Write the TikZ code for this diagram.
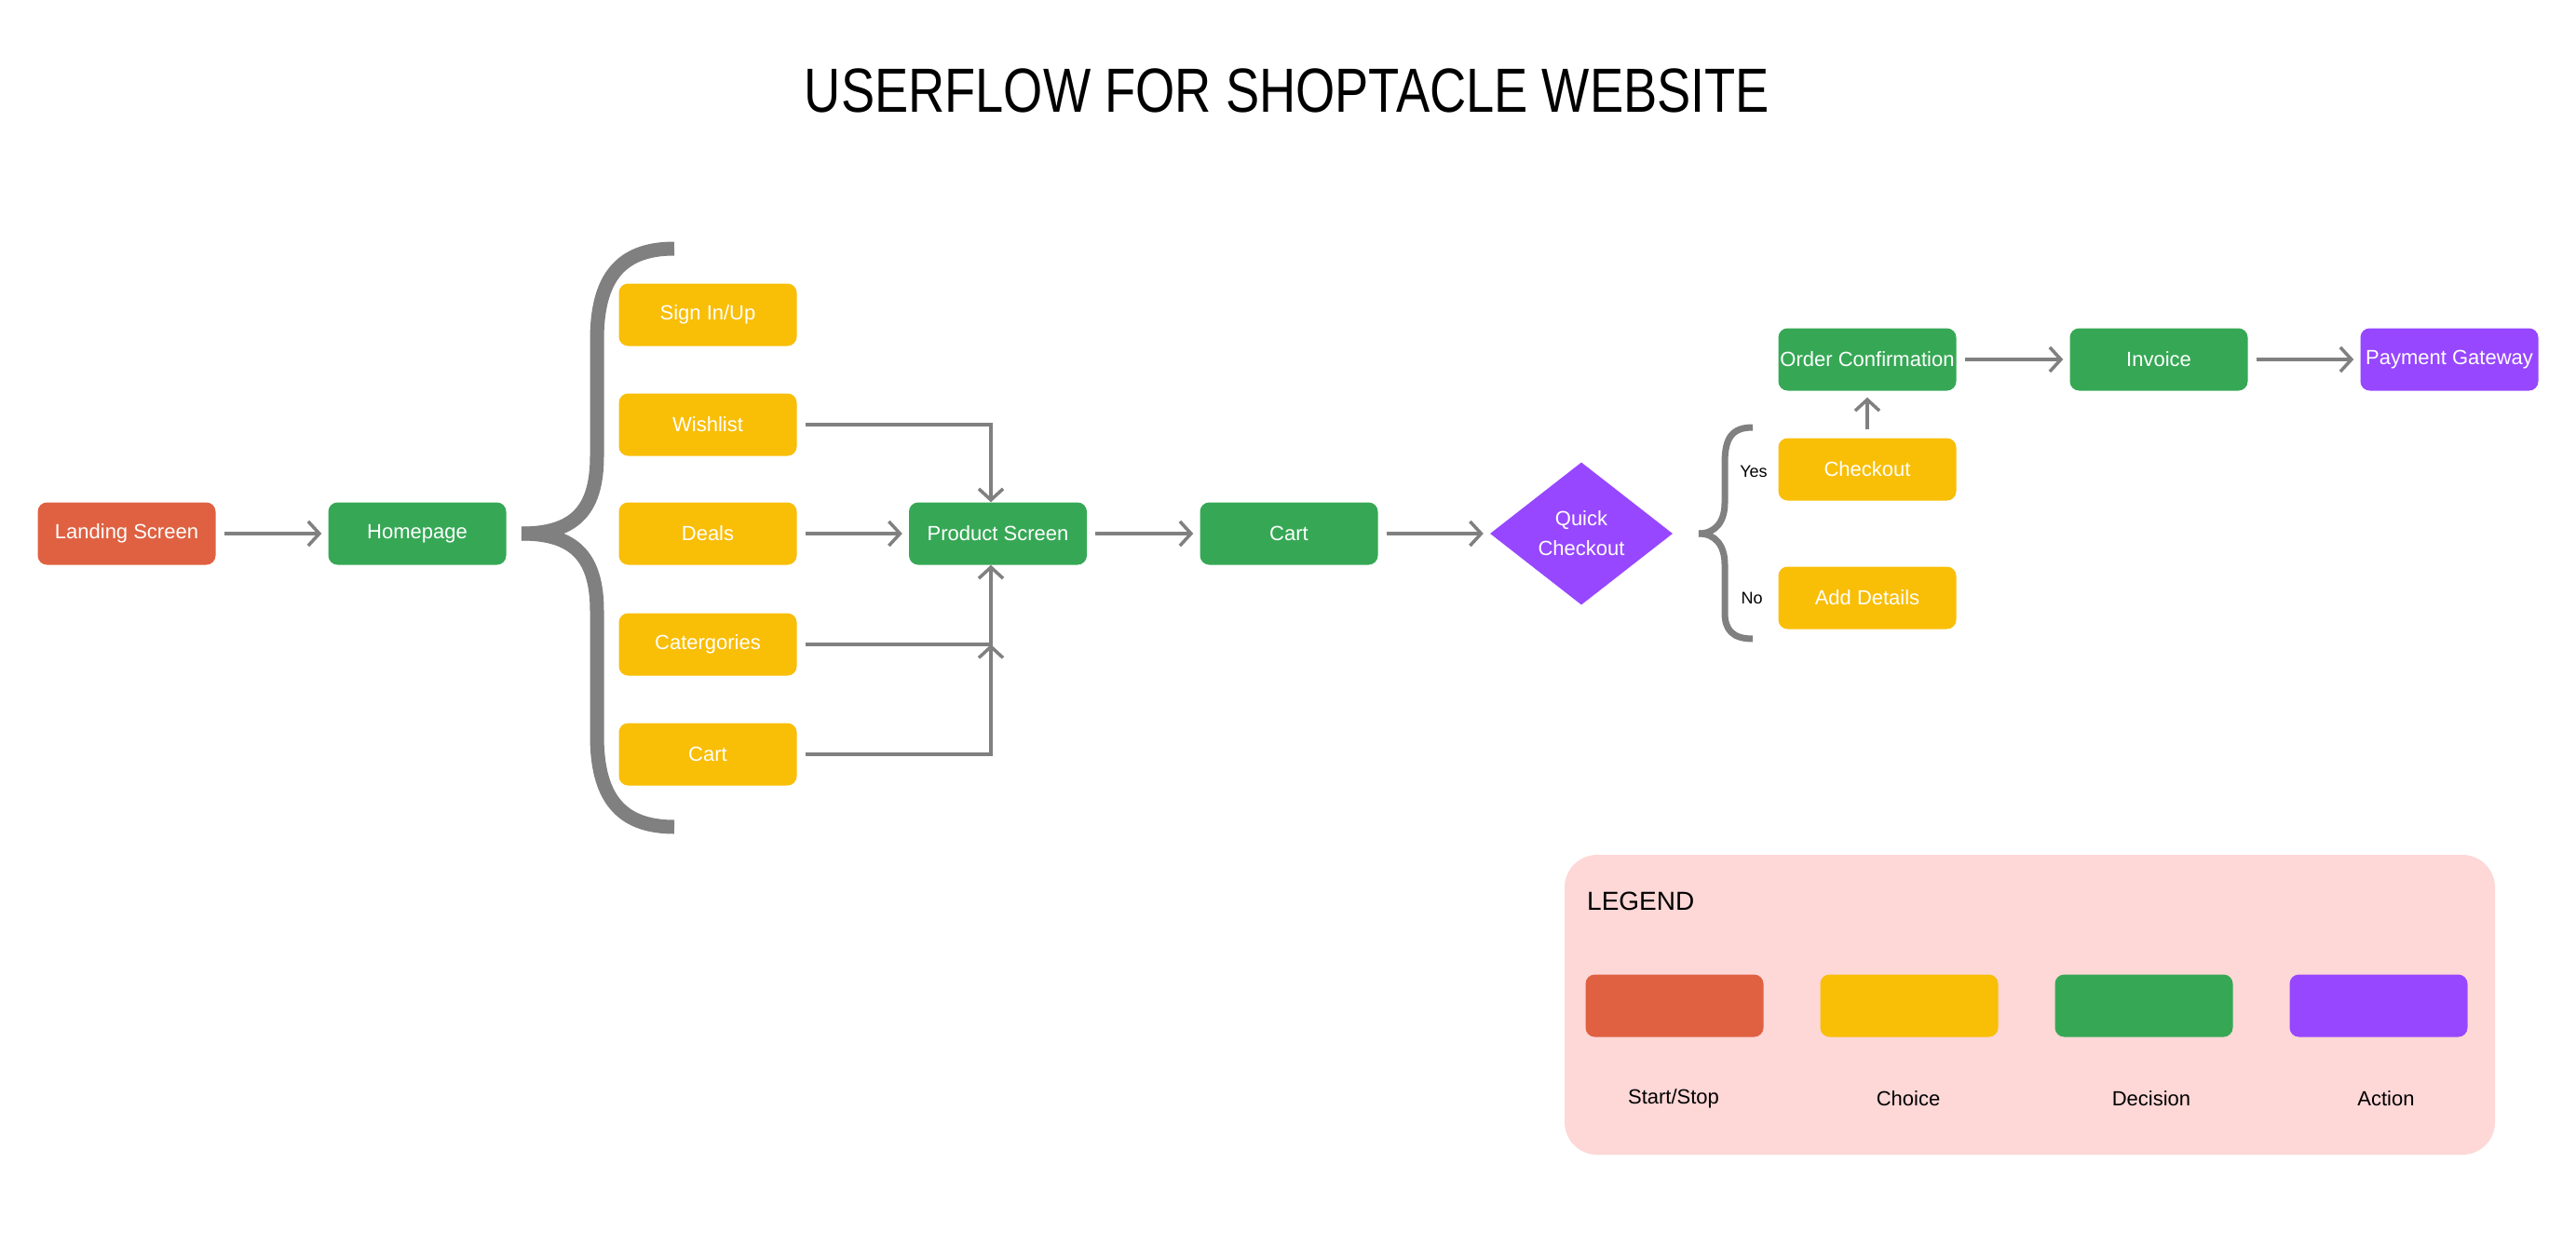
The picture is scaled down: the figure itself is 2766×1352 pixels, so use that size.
\documentclass[tikz,border=0pt]{standalone}
\usepackage{fontspec}
\setmainfont{Liberation Sans}
\usetikzlibrary{arrows.meta,shapes.geometric}
\definecolor{cRed}{HTML}{DF6141}
\definecolor{cYellow}{HTML}{F9BE06}
\definecolor{cGreen}{HTML}{36A855}
\definecolor{cPurple}{HTML}{9747FF}
\definecolor{cPink}{HTML}{FED7D7}
\definecolor{cGray}{HTML}{808080}
\begin{document}
\begin{tikzpicture}[x=1pt,y=-1pt,
  box/.style={rounded corners=10pt, minimum width=191pt, minimum height=67pt, inner sep=0pt, text=white, font=\fontsize{22}{26}\selectfont},
  startbox/.style={box, fill=cRed},
  choicebox/.style={box, fill=cYellow},
  decbox/.style={box, fill=cGreen},
  actbox/.style={box, fill=cPurple},
  conn/.style={draw=cGray, line width=3.5pt, -{Straight Barb[length=12pt,width=26pt]}, shorten <=9pt, shorten >=7pt},
  bracestroke/.style={draw=cGray, line cap=butt},
  lbl/.style={text=black, font=\fontsize{22}{26}\selectfont, inner sep=0pt}
]
\useasboundingbox[fill=white] (0,0) rectangle (2766,1352);

% title
\node[font=\fontsize{67}{70}\selectfont, anchor=base, inner sep=0pt] (title) at (1382,120) {\scalebox{0.81}[1]{USERFLOW FOR SHOPTACLE WEBSITE}};

% main nodes
\node[startbox] (land) at (136,573) {Landing Screen};
\node[decbox] (home) at (448,573) {Homepage};
\node[choicebox] (sign) at (760,338) {Sign In/Up};
\node[choicebox] (wish) at (760,456) {Wishlist};
\node[choicebox] (deals) at (760,573) {Deals};
\node[choicebox] (cat) at (760,692) {Catergories};
\node[choicebox] (ycart) at (760,810) {Cart};
\node[decbox] (prod) at (1071.5,573) {Product Screen};
\node[decbox] (gcart) at (1384,573) {Cart};
\node[diamond, fill=cPurple, minimum width=196pt, minimum height=153pt, inner sep=0pt, text=white, align=center, font=\fontsize{22}{32}\selectfont] (qc) at (1698,573) {Quick\\Checkout};
\node[choicebox] (chk) at (2005,504) {Checkout};
\node[choicebox] (add) at (2005,642) {Add Details};
\node[decbox] (oc) at (2005,386) {Order Confirmation};
\node[decbox] (inv) at (2318,386) {Invoice};
\node[actbox] (pay) at (2630,386) {Payment Gateway};

\node[lbl, font=\fontsize{18}{20}\selectfont] (yes) at (1883,506) {Yes};
\node[lbl, font=\fontsize{18}{20}\selectfont] (no) at (1881,642) {No};

% braces
\draw[bracestroke, line width=15pt] (724,267) .. controls (665,267) and (641,300) .. (641,365) -- (641,490) .. controls (641,550) and (615,573) .. (560,573);
\draw[bracestroke, line width=15pt] (560,573) .. controls (615,573) and (641,596) .. (641,656) -- (641,790) .. controls (641,855) and (665,888) .. (724,888);
\draw[bracestroke, line width=7pt] (1882,459) .. controls (1860,459) and (1852,470) .. (1852,497) -- (1852,540) .. controls (1852,560) and (1842,573) .. (1824,573);
\draw[bracestroke, line width=7pt] (1824,573) .. controls (1842,573) and (1852,586) .. (1852,606) -- (1852,658) .. controls (1852,676) and (1860,686) .. (1882,686);

% connectors
\coordinate (jx) at (1064,692);
\draw[conn] (land) -- (home);
\draw[conn, shorten >=0pt] (wish.east) -| (jx |- prod.north);
\draw[conn] (deals) -- (prod);
\draw[conn, shorten >=0pt] (cat.east) -- (jx) -- (jx |- prod.south);
\draw[conn, shorten >=0pt] (ycart.east) -| (jx);
\draw[conn] (prod) -- (gcart);
\draw[conn] (gcart) -- (qc);
\draw[conn] (chk) -- (oc);
\draw[conn] (oc) -- (inv);
\draw[conn] (inv) -- (pay);

% legend
\node[fill=cPink, rounded corners=35pt, minimum width=999pt, minimum height=322pt, inner sep=0pt] (leg) at (2179.5,1079) {};
\node[lbl, font=\fontsize{28}{32}\selectfont, anchor=west] (legt) at (1704,968) {LEGEND};
\node[startbox] (s1) at (1798,1080) {};
\node[choicebox] (s2) at (2050,1080) {};
\node[decbox] (s3) at (2302,1080) {};
\node[actbox] (s4) at (2554,1080) {};
\node[lbl] (l1) at (1797,1180) {Start/Stop};
\node[lbl] (l2) at (2049,1180) {Choice};
\node[lbl] (l3) at (2310,1180) {Decision};
\node[lbl] (l4) at (2562,1180) {Action};
\end{tikzpicture}
\end{document}
